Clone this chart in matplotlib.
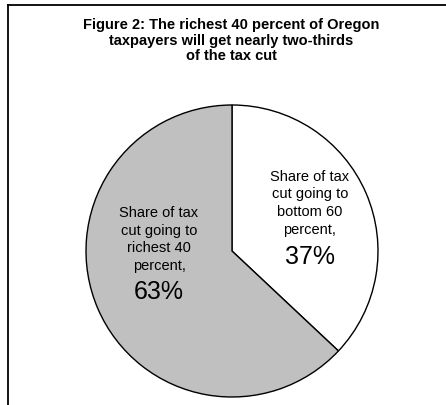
import matplotlib
matplotlib.use("Agg")
import matplotlib.pyplot as plt
from matplotlib.lines import Line2D

plt.rcParams['font.family'] = ['Liberation Sans', 'DejaVu Sans']

# data
groups = ["bottom 60 percent", "richest 40 percent"]
shares = [37, 63]
colors = ["white", "#c0c0c0"]
label_text = ["Share of tax\ncut going to\nbottom 60\npercent,",
              "Share of tax\ncut going to\nrichest 40\npercent,"]
title = ("Figure 2: The richest 40 percent of Oregon\n"
         "taxpayers will get nearly two-thirds\n"
         "of the tax cut")

W, H = 446, 405
fig = plt.figure(figsize=(W / 100, H / 100), dpi=100)

# pie axes: centre (232, 251) px, radius 146 px
cx, cy, r = 232, 251, 146
ax = fig.add_axes([(cx - r) / W, (H - cy - r) / H, 2 * r / W, 2 * r / H])
ax.pie(shares, colors=colors, startangle=90, counterclock=False,
       wedgeprops=dict(edgecolor="black", linewidth=1.0))
ax.set_xlim(-1, 1)
ax.set_ylim(-1, 1)
ax.set_aspect("auto")

# label positions (data units of the pie)
lab_pos = [(0.534, 0.327, -0.039), (-0.50, 0.079, -0.279)]
for txt, s, (x, y, yp) in zip(label_text, shares, lab_pos):
    ax.text(x, y, txt, ha="center", va="center", fontsize=10.5,
            linespacing=1.33)
    ax.text(x, yp, f"{s}%", ha="center", va="center", fontsize=18)

fig.text(231.5 / W, 1 - 40.5 / H, title, ha="center", va="center",
         fontsize=10.5, fontweight="bold", linespacing=1.1)

# frame lines (top and left only visible)
fig.add_artist(Line2D([7.5 / W, 1], [1 - 4.5 / H, 1 - 4.5 / H],
                      transform=fig.transFigure, color="black", lw=1.3))
fig.add_artist(Line2D([7.5 / W, 7.5 / W], [0, 1 - 4.5 / H],
                      transform=fig.transFigure, color="black", lw=1.3))

fig.savefig("out.png", dpi=100)
